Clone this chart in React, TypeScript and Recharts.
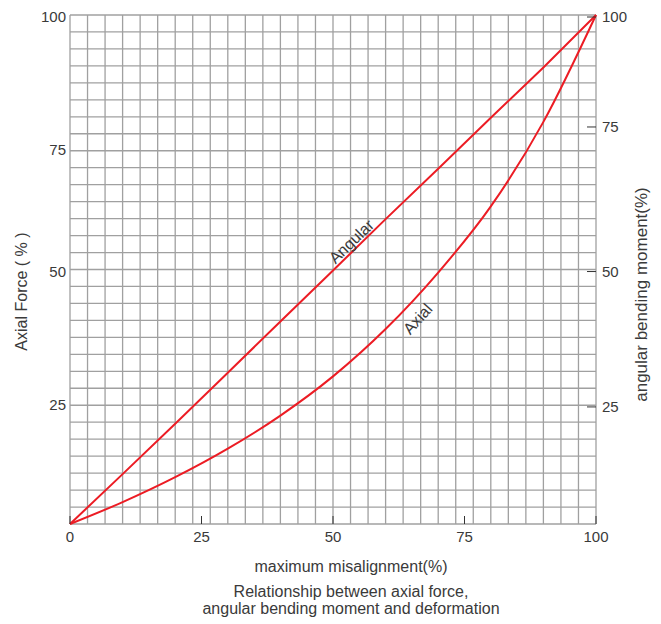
import React from "react";
import {
  LineChart,
  Line,
  XAxis,
  YAxis,
  CartesianGrid,
  ReferenceDot,
} from "recharts";

// values (percent)
const misalignment = [0, 10, 20, 30, 40, 50, 60, 70, 80, 90, 100];
const angularMoment = [0, 9.8, 19.7, 29.7, 39.8, 49.8, 59.9, 69.8, 79.8, 89.7, 100];
const axialForce = [0, 4.3, 9.2, 14.8, 21.3, 29.0, 38.3, 49.4, 62.4, 79.0, 100];

const xTicks = [0, 25, 50, 75, 100];
const leftTicks = [23.4, 49.6, 73.5, 100];
const leftTickLabels = ["25", "50", "75", "100"];
const rightTicks = [23, 49.6, 78, 100];
const rightTickLabels = ["25", "50", "75", "100"];

// 30 x 30 background grid, as fractions of the plot
const gridSteps = Array.from({ length: 31 }, (_, i) => i / 30);

const data = misalignment.map((x, i) => ({
  x,
  angular: angularMoment[i],
  axial: axialForce[i],
}));

const FONT = "'Liberation Sans', Arial, sans-serif";
const TEXT = "#3a3a3a";
const RED = "#ec1c24";

function XTick({ x, y, payload }: any) {
  return (
    <g>
      <line x1={x} y1={y} x2={x} y2={y - 8} stroke="#333" strokeWidth={1} />
      <text x={x} y={y + 18} textAnchor="middle" fontSize={15} fill={TEXT} fontFamily={FONT}>
        {payload.value}
      </text>
    </g>
  );
}

function LeftTick({ x, y, index }: any) {
  return (
    <text x={x - 4} y={y + 5} textAnchor="end" fontSize={15} fill={TEXT} fontFamily={FONT}>
      {leftTickLabels[index]}
    </text>
  );
}

function RightTick({ x, y, index }: any) {
  return (
    <g>
      <line x1={x - 9} y1={y} x2={x} y2={y} stroke="#333" strokeWidth={1} />
      <text x={x + 6} y={y + 5} textAnchor="start" fontSize={15} fill={TEXT} fontFamily={FONT}>
        {rightTickLabels[index]}
      </text>
    </g>
  );
}

function XTitle({ viewBox }: any) {
  const cx = viewBox.x + viewBox.width / 2 + 18;
  const top = viewBox.y;
  return (
    <g fontFamily={FONT} fill={TEXT} textAnchor="middle">
      <text x={cx} y={top + 48} fontSize={16}>
        maximum misalignment(%)
      </text>
      <text x={cx} y={top + 73} fontSize={16}>
        Relationship between axial force,
      </text>
      <text x={cx} y={top + 90} fontSize={16}>
        angular bending moment and deformation
      </text>
    </g>
  );
}

function LeftTitle({ viewBox }: any) {
  const x = viewBox.x + 19;
  const y = viewBox.y + viewBox.height / 2 + 22;
  return (
    <text x={x} y={y} transform={`rotate(-90 ${x} ${y})`} textAnchor="middle"
      fontSize={16} fill={TEXT} fontFamily={FONT}>
      Axial Force ( % )
    </text>
  );
}

function RightTitle({ viewBox }: any) {
  const x = viewBox.x + 51;
  const y = viewBox.y + viewBox.height / 2 + 25;
  return (
    <text x={x} y={y} transform={`rotate(-90 ${x} ${y})`} textAnchor="middle"
      fontSize={17} fill={TEXT} fontFamily={FONT}>
      angular bending moment(%)
    </text>
  );
}

function CurveLabel({ viewBox, text, rot }: any) {
  const { x, y } = viewBox;
  return (
    <text x={x} y={y} transform={`rotate(${rot} ${x} ${y})`} textAnchor="middle"
      dominantBaseline="central" fontSize={16} fill={TEXT} fontFamily={FONT}>
      {text}
    </text>
  );
}

export default function App() {
  return (
    <LineChart
      width={653}
      height={616}
      data={data}
      margin={{ top: 7, right: 0, bottom: 0, left: 0 }}
    >
      <CartesianGrid
        stroke="#a0a0a0"
        strokeWidth={1.3}
        verticalCoordinatesGenerator={({ offset }: any) =>
          gridSteps.map((f) => offset.left + f * offset.width)
        }
        horizontalCoordinatesGenerator={({ offset }: any) =>
          gridSteps.map((f) => offset.top + f * offset.height)
        }
      />
      <XAxis
        dataKey="x"
        type="number"
        domain={[0, 100]}
        ticks={xTicks}
        height={100}
        axisLine={false}
        tickLine={false}
        tickSize={0}
        tickMargin={0}
        tick={<XTick />}
        label={<XTitle />}
      />
      <YAxis
        yAxisId="left"
        type="number"
        domain={[0, 100]}
        ticks={leftTicks}
        width={62}
        axisLine={false}
        tickLine={false}
        tickSize={0}
        tickMargin={0}
        tick={<LeftTick />}
        label={<LeftTitle />}
      />
      <YAxis
        yAxisId="right"
        orientation="right"
        type="number"
        domain={[0, 100]}
        ticks={rightTicks}
        width={65}
        axisLine={false}
        tickLine={false}
        tickSize={0}
        tickMargin={0}
        tick={<RightTick />}
        label={<RightTitle />}
      />
      <Line
        yAxisId="right"
        type="linear"
        dataKey="angular"
        stroke={RED}
        strokeWidth={2}
        dot={false}
        isAnimationActive={false}
      />
      <Line
        yAxisId="left"
        type="monotone"
        dataKey="axial"
        stroke={RED}
        strokeWidth={2}
        dot={false}
        isAnimationActive={false}
      />
      <ReferenceDot
        yAxisId="right"
        x={53.5}
        y={55.5}
        r={0}
        fill="none"
        stroke="none"
        label={<CurveLabel text="Angular" rot={-44} />}
      />
      <ReferenceDot
        yAxisId="left"
        x={66.1}
        y={40.3}
        r={0}
        fill="none"
        stroke="none"
        label={<CurveLabel text="Axial" rot={-48} />}
      />
    </LineChart>
  );
}
